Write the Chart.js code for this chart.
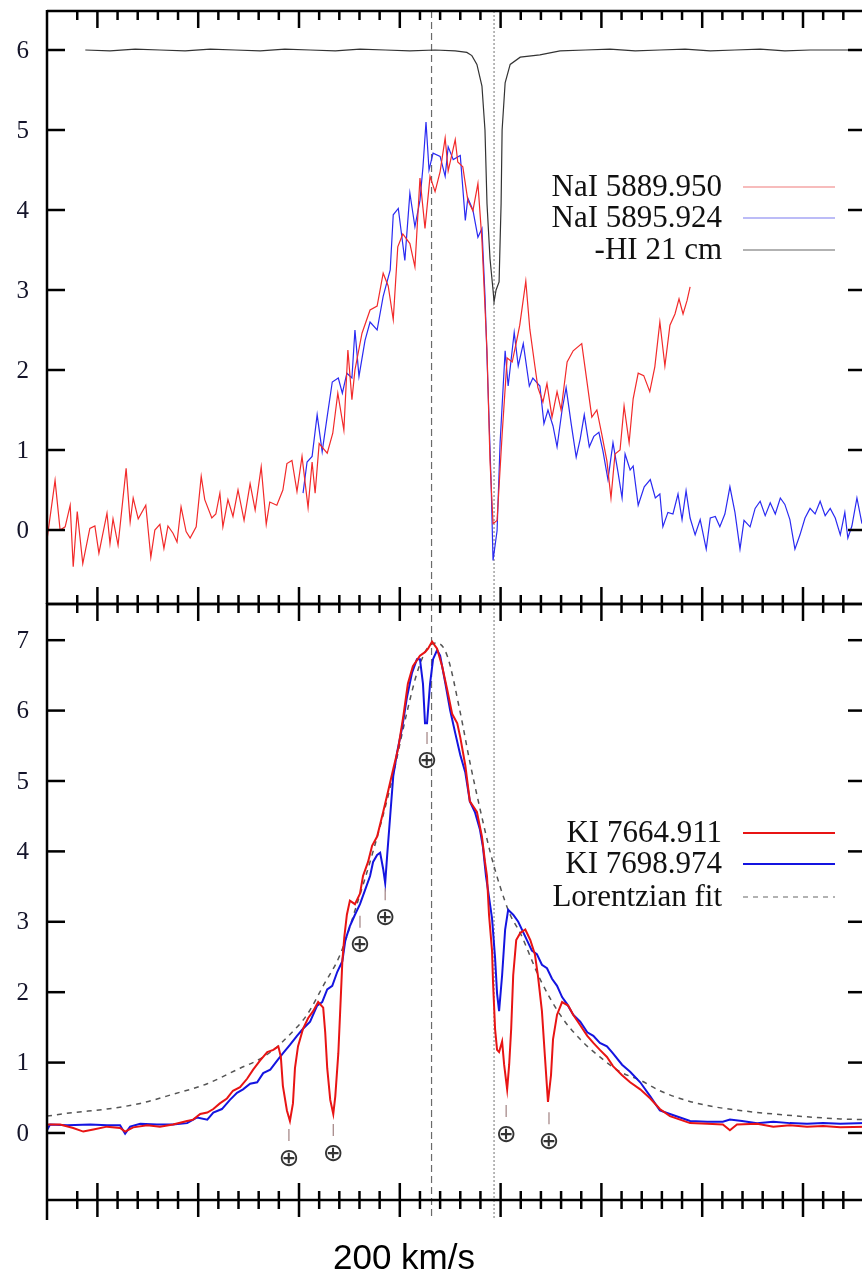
<!DOCTYPE html>
<html>
<head>
<meta charset="utf-8">
<script src="https://cdn.jsdelivr.net/npm/chart.js@4.4.1/dist/chart.umd.min.js"></script>
<style>
  html, body { margin: 0; padding: 0; background: #fff; overflow: hidden; }
  #wrap { position: relative; width: 862px; height: 1276px; overflow: hidden; }
  #wrap canvas { position: absolute; left: 0; top: 0; }
  #scaleNote {
    position: absolute; left: 0; width: 808px; top: 1237px;
    text-align: center; font: 35px "Liberation Sans", Arial, sans-serif; color: #000;
  }
</style>
</head>
<body>
<div id="wrap">
  <canvas id="naPanel" width="870" height="1276"></canvas>
  <canvas id="kPanel" width="870" height="1276"></canvas>
  <div id="scaleNote">200 km/s</div>
</div>
<script>
// velocity (km/s) vs. flux, [v, y] pairs
const naD2 = [[-700,-0.12],[-684,0.62],[-674,0.0],[-664,0.04],[-654,0.31],[-648,-0.46],[-640,0.23],[-629,-0.42],[-615,0.02],[-605,0.05],[-597,-0.29],[-581,0.21],[-575,-0.17],[-569,0.14],[-559,-0.19],[-543,0.77],[-535,0.1],[-529,0.4],[-519,0.14],[-504,0.31],[-494,-0.34],[-486,0.0],[-476,0.07],[-468,-0.23],[-460,0.05],[-450,-0.04],[-442,-0.15],[-434,0.29],[-424,-0.02],[-416,-0.1],[-404,0.04],[-394,0.67],[-387,0.38],[-373,0.15],[-365,0.2],[-357,0.46],[-351,0.04],[-341,0.38],[-331,0.17],[-321,0.5],[-309,0.12],[-297,0.58],[-287,0.25],[-275,0.79],[-265,0.07],[-258,0.35],[-244,0.31],[-232,0.5],[-224,0.83],[-214,0.87],[-204,0.48],[-194,0.92],[-182,0.28],[-174,0.85],[-168,0.46],[-160,1.08],[-144,0.96],[-133,1.21],[-123,1.71],[-111,1.25],[-103,2.25],[-95,1.63],[-89,2.0],[-75,2.46],[-59,2.75],[-45,2.8],[-33,3.21],[-23,3.05],[-13,2.63],[-4,3.54],[6,3.7],[20,3.58],[30,3.29],[40,4.4],[50,3.77],[60,4.42],[70,4.23],[80,4.48],[90,4.9],[96,4.49],[110,4.88],[115,4.6],[125,4.54],[135,4.12],[145,3.99],[155,4.33],[163,3.62],[173,2.24],[179,0.86],[185,0.08],[193,0.12],[203,1.19],[213,2.15],[223,2.1],[232,2.37],[238,2.56],[250,3.11],[258,2.51],[268,2.05],[274,1.78],[284,1.6],[292,1.83],[302,1.41],[312,1.73],[320,1.5],[332,2.1],[344,2.24],[361,2.33],[371,1.87],[381,1.41],[391,1.5],[401,1.19],[411,0.86],[419,0.4],[427,0.95],[437,1.0],[445,1.55],[455,1.09],[463,1.64],[473,1.96],[484,1.93],[496,1.73],[506,2.04],[516,2.6],[526,2.05],[536,2.56],[546,2.7],[554,2.89],[562,2.7],[570,2.87],[576,3.04]];

const naD1 = [[-192,0.46],[-184,0.85],[-174,0.92],[-164,1.44],[-154,0.98],[-144,1.42],[-134,1.85],[-122,1.9],[-114,1.71],[-105,1.96],[-95,1.9],[-89,2.5],[-81,1.92],[-69,2.37],[-59,2.6],[-45,2.5],[-33,2.92],[-19,3.25],[-13,3.94],[-3,4.02],[10,3.37],[20,4.21],[30,3.79],[40,4.12],[46,4.54],[52,5.1],[58,4.5],[66,4.71],[80,4.67],[90,4.42],[96,4.79],[106,4.63],[120,4.68],[130,3.87],[135,4.15],[145,4.0],[155,3.66],[163,3.77],[169,2.93],[175,1.78],[181,0.63],[185,-0.38],[193,-0.01],[199,1.09],[209,2.24],[215,1.8],[227,2.47],[235,2.05],[245,2.33],[257,1.8],[264,1.9],[278,1.8],[286,1.33],[294,1.5],[304,1.3],[312,1.04],[322,1.5],[330,1.78],[340,1.33],[350,0.91],[358,1.14],[366,1.44],[376,1.04],[385,1.17],[395,1.22],[403,0.99],[413,0.63],[423,1.09],[433,0.72],[441,0.4],[447,0.95],[457,0.75],[463,0.8],[473,0.31],[485,0.54],[497,0.63],[507,0.4],[516,0.45],[522,0.04],[532,0.22],[542,0.2],[552,0.45],[560,0.13],[568,0.49],[576,0.15],[586,-0.06],[596,0.13],[608,-0.24],[616,0.15],[626,0.17],[635,0.04],[645,0.2],[655,0.54],[665,0.22],[675,-0.24],[683,0.12],[695,0.04],[705,0.27],[715,0.36],[725,0.18],[735,0.34],[745,0.2],[755,0.4],[764,0.32],[774,0.13],[784,-0.24],[794,-0.06],[804,0.15],[814,0.27],[824,0.2],[834,0.36],[844,0.18],[854,0.27],[864,0.15],[874,-0.06],[883,0.22],[889,-0.1],[897,0.05],[907,0.4],[917,0.08]];

const hi21 = [[-624,6.0],[-575,5.99],[-525,6.01],[-476,6.0],[-426,5.99],[-376,6.01],[-327,6.0],[-277,5.99],[-228,6.01],[-178,6.0],[-128,5.99],[-79,6.01],[-29,6.0],[20,5.99],[70,6.0],[110,5.99],[133,5.97],[143,5.93],[153,5.82],[163,5.55],[169,5.0],[173,4.08],[179,3.39],[185,3.0],[187,2.85],[191,3.0],[197,3.1],[199,3.6],[201,4.08],[203,5.0],[209,5.59],[219,5.82],[239,5.91],[278,5.94],[318,5.99],[368,6.0],[417,6.01],[467,5.99],[516,6.0],[566,6.01],[616,5.99],[665,6.0],[715,6.01],[764,5.99],[814,6.0],[864,6.0],[925,6.0]];

const kiRed = [[-700,0.12],[-674,0.12],[-648,0.07],[-628,0.02],[-608,0.05],[-581,0.09],[-555,0.07],[-545,0.02],[-529,0.08],[-501,0.11],[-476,0.09],[-450,0.12],[-422,0.17],[-410,0.19],[-396,0.27],[-382,0.29],[-370,0.34],[-357,0.42],[-343,0.49],[-331,0.6],[-317,0.65],[-303,0.77],[-291,0.9],[-277,1.03],[-263,1.15],[-251,1.18],[-241,1.23],[-236,1.08],[-232,0.67],[-224,0.32],[-218,0.17],[-212,0.42],[-208,0.92],[-202,1.23],[-192,1.48],[-182,1.63],[-172,1.73],[-162,1.86],[-152,1.78],[-148,1.43],[-144,0.92],[-138,0.47],[-132,0.27],[-128,0.52],[-122,1.13],[-118,1.78],[-114,2.44],[-110,2.79],[-105,3.1],[-99,3.3],[-89,3.25],[-79,3.4],[-73,3.65],[-63,3.85],[-55,4.08],[-45,4.21],[-33,4.56],[-23,4.86],[-13,5.17],[-3,5.47],[7,5.92],[16,6.38],[26,6.63],[40,6.78],[50,6.83],[56,6.88],[64,6.98],[74,6.88],[84,6.63],[94,6.3],[104,5.95],[114,5.82],[120,5.62],[130,5.22],[139,4.71],[153,4.56],[163,4.21],[169,3.85],[173,3.65],[177,3.1],[183,2.59],[185,2.14],[189,1.48],[193,1.18],[197,1.15],[203,1.3],[207,0.97],[213,0.62],[217,0.97],[221,1.48],[225,2.24],[231,2.74],[239,2.84],[249,2.89],[259,2.74],[268,2.54],[274,2.24],[282,1.73],[288,1.08],[294,0.44],[300,0.82],[304,1.33],[312,1.68],[322,1.86],[334,1.81],[344,1.68],[358,1.53],[372,1.38],[384,1.28],[397,1.18],[411,1.08],[423,0.95],[441,0.82],[457,0.72],[477,0.62],[497,0.49],[516,0.34],[536,0.24],[556,0.19],[576,0.14],[610,0.13],[641,0.12],[655,0.04],[669,0.12],[709,0.13],[741,0.09],[774,0.11],[808,0.09],[840,0.1],[874,0.08],[925,0.09]];

const kiBlue = [[-700,0.04],[-694,0.12],[-660,0.11],[-614,0.12],[-581,0.11],[-555,0.11],[-545,-0.01],[-535,0.09],[-515,0.13],[-482,0.12],[-450,0.12],[-422,0.14],[-402,0.22],[-382,0.19],[-370,0.29],[-353,0.34],[-337,0.47],[-323,0.57],[-311,0.62],[-297,0.7],[-283,0.72],[-271,0.85],[-257,0.9],[-243,1.03],[-232,1.13],[-218,1.25],[-204,1.38],[-192,1.48],[-178,1.58],[-164,1.81],[-154,1.86],[-144,2.04],[-134,2.09],[-124,2.29],[-114,2.44],[-108,2.74],[-99,2.94],[-89,3.1],[-79,3.25],[-69,3.45],[-59,3.65],[-53,3.85],[-45,3.95],[-39,3.98],[-33,3.75],[-29,3.55],[-25,3.95],[-19,4.51],[-13,5.07],[-5,5.42],[5,5.77],[14,6.18],[24,6.53],[34,6.73],[40,6.73],[46,6.38],[50,5.82],[54,5.82],[60,6.38],[66,6.73],[74,6.86],[80,6.78],[90,6.4],[100,6.0],[110,5.68],[120,5.37],[130,5.12],[139,4.71],[149,4.56],[159,4.31],[165,4.06],[171,3.65],[175,3.45],[183,3.05],[189,2.49],[193,1.98],[197,1.73],[203,2.24],[209,2.89],[215,3.17],[225,3.1],[235,3.0],[249,2.79],[262,2.59],[272,2.54],[282,2.39],[292,2.34],[302,2.19],[312,2.09],[322,1.93],[332,1.83],[344,1.68],[358,1.58],[372,1.43],[384,1.38],[397,1.28],[411,1.23],[423,1.13],[441,0.97],[457,0.87],[477,0.72],[497,0.52],[516,0.32],[536,0.27],[556,0.22],[576,0.17],[610,0.16],[641,0.16],[655,0.19],[679,0.17],[709,0.14],[741,0.16],[774,0.14],[808,0.13],[840,0.14],[874,0.13],[925,0.14]];

const lorentzFit = [[-700,0.24],[-648,0.29],[-581,0.34],[-515,0.42],[-450,0.55],[-382,0.7],[-317,0.92],[-283,1.03],[-251,1.18],[-218,1.4],[-184,1.68],[-152,2.09],[-118,2.54],[-85,3.25],[-53,4.0],[-19,4.91],[14,5.97],[34,6.53],[54,6.88],[74,6.96],[94,6.78],[120,5.97],[139,5.27],[159,4.61],[179,4.0],[199,3.5],[219,3.1],[239,2.84],[278,2.19],[318,1.68],[358,1.33],[397,1.08],[437,0.87],[477,0.75],[516,0.6],[556,0.49],[610,0.39],[675,0.32],[741,0.27],[808,0.23],[874,0.2],[925,0.19]];

// telluric absorption marks in the K I panel, [v, y]
const tellurics = [[-220,-0.37],[-132,-0.30],[-79,2.66],[-29,3.05],[54,5.27],[211,-0.03],[296,-0.13]];

// reference velocities: dashed and dotted verticals
const vDashed = 63;
const vDotted = 187;

const naLabels = ['NaI 5889.950', 'NaI 5895.924', '-HI 21 cm'];
const kLabels = ['KI 7664.911', 'KI 7698.974', 'Lorentzian fit'];
const naTicks = [0, 1, 2, 3, 4, 5, 6];
const kTicks = [0, 1, 2, 3, 4, 5, 6, 7];

const toXY = arr => arr.map(([x, y]) => ({ x, y }));

function line(ctx, x1, y1, x2, y2) {
  ctx.beginPath();
  ctx.moveTo(x1, y1);
  ctx.lineTo(x2, y2);
  ctx.stroke();
}

const framePlugin = {
  id: 'frame',
  beforeDatasetsDraw(chart, args, o) {
    const { ctx, chartArea: a, scales: { x } } = chart;
    ctx.save();
    ctx.lineWidth = 1.2;
    ctx.strokeStyle = '#6a6a6a';
    ctx.setLineDash([7, 4]);
    const xd = x.getPixelForValue(vDashed);
    line(ctx, xd, a.top, xd, o.extendTo || a.bottom);
    ctx.strokeStyle = '#8a8a8a';
    ctx.setLineDash([2, 2]);
    const xo = x.getPixelForValue(vDotted);
    line(ctx, xo, a.top, xo, o.extendTo || a.bottom);
    ctx.restore();
  },
  afterDatasetsDraw(chart, args, o) {
    const { ctx, scales: { x, y } } = chart;
    if (!o.marks) return;
    ctx.save();
    o.marks.forEach(([v, val]) => {
      const px = x.getPixelForValue(v);
      const py = y.getPixelForValue(val);
      ctx.strokeStyle = '#a08080';
      ctx.lineWidth = 1.2;
      line(ctx, px, py - 30, px, py - 18);
      ctx.fillStyle = '#333';
      ctx.font = '25px "DejaVu Sans"';
      ctx.textAlign = 'center';
      ctx.textBaseline = 'middle';
      ctx.fillText('\u2295', px, py);
    });
    ctx.restore();
  },
  afterDraw(chart, args, o) {
    const { ctx, chartArea: a, scales: { x, y } } = chart;
    ctx.save();
    ctx.strokeStyle = '#000';
    ctx.lineWidth = 2.5;
    ctx.setLineDash([]);
    // frame
    line(ctx, a.left, a.top - 1, a.left, o.extendTo || a.bottom);
    line(ctx, a.left, a.top, a.right, a.top);
    line(ctx, a.left, a.bottom, a.right, a.bottom);
    line(ctx, a.right, a.top, a.right, a.bottom);
    // x ticks, inward on both edges (and outward below the lower panel)
    x.ticks.forEach(t => {
      const px = x.getPixelForValue(t.value);
      const len = t.value % 200 === 0 ? 17 : 9;
      line(ctx, px, a.top, px, a.top + len);
      line(ctx, px, a.bottom - len, px, a.bottom);
      if (o.ticksBelow) line(ctx, px, a.bottom, px, a.bottom + len);
    });
    // y ticks with labels on the left
    ctx.fillStyle = '#14142a';
    ctx.font = '25px "Liberation Serif", "Times New Roman", serif';
    ctx.textAlign = 'right';
    ctx.textBaseline = 'middle';
    o.yTicks.forEach(v => {
      const py = y.getPixelForValue(v);
      line(ctx, a.left, py, a.left + 18, py);
      line(ctx, a.right - 18, py, a.right, py);
      ctx.fillText(String(v), 29, py + 1);
    });
    // legend: label on the left, sample line on the right
    ctx.font = '31px "Liberation Serif", "Times New Roman", serif';
    ctx.fillStyle = '#111';
    chart.data.datasets.forEach((ds, i) => {
      const ly = o.legendRows[i];
      ctx.fillText(ds.label, 722, ly + 1);
      ctx.strokeStyle = ds.legendColor || ds.borderColor;
      ctx.lineWidth = ds.borderWidth;
      ctx.setLineDash(ds.borderDash || []);
      line(ctx, 743, ly, 835, ly);
    });
    ctx.restore();
  }
};

function hiddenScale(min, max, step, isX) {
  return {
    type: 'linear',
    min, max,
    ticks: { display: false, stepSize: step },
    grid: { display: false },
    border: { display: false },
    afterBuildTicks: s => { s.ticks = s.ticks.filter(t => t.value % step === 0); },
    afterFit: s => { if (isX) s.height = 0; else s.width = 0; }
  };
}

function makePanel(id, datasets, yMin, yMax, pad, frame) {
  return new Chart(document.getElementById(id), {
    type: 'line',
    data: { datasets },
    options: {
      responsive: false,
      animation: false,
      devicePixelRatio: 1,
      layout: { padding: pad },
      elements: { point: { radius: 0 }, line: { tension: 0 } },
      scales: {
        x: hiddenScale(-700, 925, 40, true),
        y: hiddenScale(yMin, yMax, 1, false)
      },
      plugins: { legend: { display: false }, tooltip: { enabled: false }, frame }
    },
    plugins: [framePlugin]
  });
}

// Na I doublet with the 21 cm profile
makePanel('naPanel', [
  { label: naLabels[0], data: toXY(naD2), borderColor: '#f22a2a', borderWidth: 1.2, legendColor: '#f07a7a' },
  { label: naLabels[1], data: toXY(naD1), borderColor: '#2a2af2', borderWidth: 1.2, legendColor: '#7a7af0' },
  { label: naLabels[2], data: toXY(hi21), borderColor: '#333', borderWidth: 1.2, legendColor: '#666' }
], -0.925, 6.4875, { left: 47, right: 4, top: 11, bottom: 672 },
  { yTicks: naTicks, legendRows: [187, 218, 250] });

// K I doublet with the Lorentzian profile
makePanel('kPanel', [
  { label: kLabels[0], data: toXY(kiRed), borderColor: '#e81414', borderWidth: 2 },
  { label: kLabels[1], data: toXY(kiBlue), borderColor: '#1414e0', borderWidth: 2 },
  { label: kLabels[2], data: toXY(lorentzFit), borderColor: '#555', borderWidth: 1.5, borderDash: [5, 5],
    cubicInterpolationMode: 'monotone', legendColor: '#999' }
], -0.952, 7.514, { left: 47, right: 4, top: 604, bottom: 76 },
  { yTicks: kTicks, legendRows: [833, 864, 897], marks: tellurics, ticksBelow: true, extendTo: 1220 });
</script>
</body>
</html>
